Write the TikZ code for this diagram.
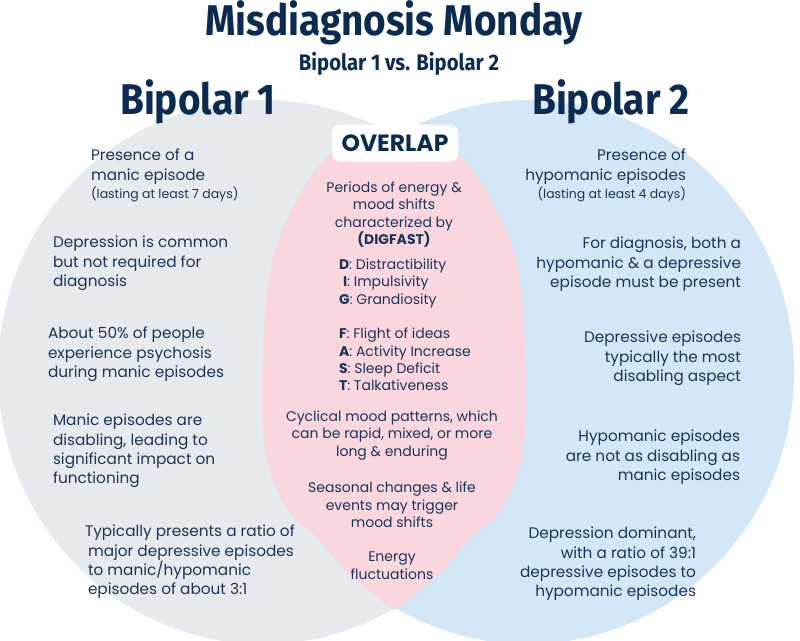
\documentclass[tikz,border=0pt]{standalone}
\usepackage{fontspec}
\setmainfont{Poppins}
\newfontfamily\headfont[FakeStretch=0.9]{Fira Sans}
\definecolor{navy}{HTML}{0C2B50}
\definecolor{bodytxt}{HTML}{1D3558}
\definecolor{graybg}{HTML}{E6E9ED}
\definecolor{bluebg}{HTML}{D3E7F7}
\definecolor{pinkbg}{HTML}{FAD7DF}
\begin{document}
\begin{tikzpicture}[x=1pt,y=-1pt,
  every node/.style={inner sep=0pt, outer sep=0pt, text=bodytxt},
  sidetxt/.style={align=left, anchor=north west, font=\fontsize{15.3}{19.4}\selectfont},
  sidetxtr/.style={align=right, anchor=north east, font=\fontsize{15.3}{19.4}\selectfont},
  midtxt/.style={align=center, anchor=north, font=\fontsize{14}{17.3}\selectfont},
  listtxt/.style={align=left, anchor=north west, font=\fontsize{14}{17.3}\selectfont},
  heading/.style={text=navy, font=\headfont\bfseries\fontsize{43}{48}\selectfont}
]
\useasboundingbox (0,0) rectangle (800,640);
\fill[white] (0,0) rectangle (800,640);
% circles
\fill[graybg] (263,372) ellipse [x radius=265, y radius=272];
\fill[bluebg] (528,372) ellipse [x radius=266, y radius=272];
% overlap lens
\fill[pinkbg] plot[smooth, tension=0.6] coordinates {(394,126) (432,140) (470,167) (513,250) (525,350) (523,450) (500,510) (468,540) (440,573) (394,610)}
  -- plot[smooth, tension=0.6] coordinates {(394,610) (348,573) (320,540) (288,510) (265,450) (263,350) (275,250) (318,167) (356,140) (394,126)} -- cycle;
% titles
\node[heading] (title) at (394,23) {Misdiagnosis Monday};
\node[text=navy, font=\headfont\bfseries\fontsize{22.5}{26}\selectfont] (subtitle) at (399,64) {Bipolar 1 vs. Bipolar 2};
\node[heading] (bp1) at (198,102) {Bipolar 1};
\node[heading] (bp2) at (611,102) {Bipolar 2};
% overlap label
\node[fill=white, rounded corners=8pt, minimum width=126pt, minimum height=37pt, text=navy,
      font=\bfseries\fontsize{23.5}{26}\selectfont] (overlap) at (395,143) {OVERLAP};
% left column
\node[sidetxt] (l1) at (91,149) {Presence of a\\manic episode\\[-1pt]{\fontsize{12.5}{18}\selectfont (lasting at least 7 days)}};
\node[sidetxt] (l2) at (53,236) {Depression is common\\but not required for\\diagnosis};
\node[sidetxt] (l3) at (48,327) {About 50\% of people\\experience psychosis\\during manic episodes};
\node[sidetxt] (l4) at (53,414) {Manic episodes are\\disabling, leading to\\significant impact on\\functioning};
\node[sidetxt] (l5) at (85,525) {Typically presents a ratio of\\\hspace*{3pt}major depressive episodes\\\hspace*{3pt}to manic/hypomanic\\\hspace*{3pt}episodes of about 3:1};
% right column
\node[sidetxtr] (r1) at (686,149) {Presence of\\hypomanic episodes\\[-1pt]{\fontsize{12.5}{18}\selectfont (lasting at least 4 days)}};
\node[sidetxtr] (r2) at (741,237) {For diagnosis, both a\\hypomanic \& a depressive\\episode must be present};
\node[sidetxtr] (r3) at (741,331) {Depressive episodes\\typically the most\\disabling aspect};
\node[sidetxtr] (r4) at (740,430) {Hypomanic episodes\\are not as disabling as\\manic episodes};
\node[sidetxtr] (r5) at (696,527) {Depression dominant,\\with a ratio of 39:1\\depressive episodes to\\hypomanic episodes};
% centre
\node[midtxt] (m1) at (394,182) {Periods of energy \&\\mood shifts\\characterized by\\\textbf{(DIGFAST)}};
\node[listtxt] (m2) at (339,259) {\textbf{D}: Distractibility\\\hspace*{4pt}\textbf{I}: Impulsivity\\\textbf{G}: Grandiosity};
\node[listtxt] (m3) at (339,328) {\textbf{F}: Flight of ideas\\\textbf{A}: Activity Increase\\\textbf{S}: Sleep Deficit\\\textbf{T}: Talkativeness};
\node[midtxt] (m4) at (392,411) {Cyclical mood patterns, which\\can be rapid, mixed, or more\\long \& enduring};
\node[midtxt] (m5) at (392,482) {Seasonal changes \& life\\events may trigger\\mood shifts};
\node[midtxt] (m6) at (392,552) {Energy\\fluctuations};
\end{tikzpicture}
\end{document}
